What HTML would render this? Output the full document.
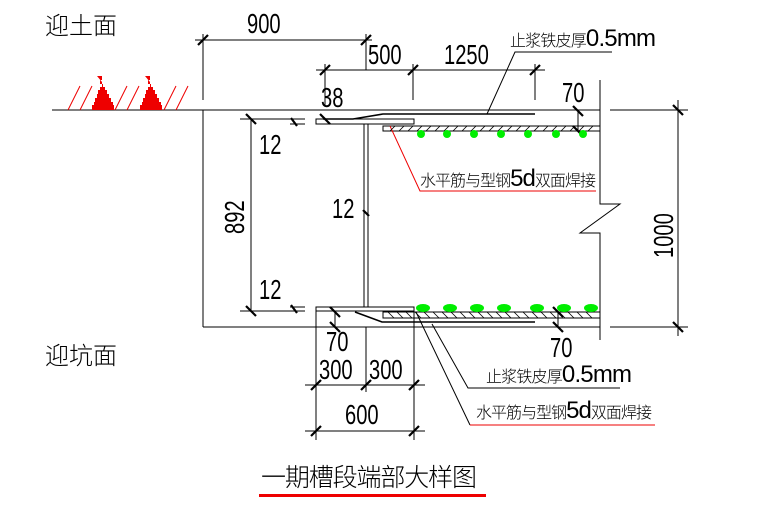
<!DOCTYPE html>
<html><head><meta charset="utf-8"><style>
html,body{margin:0;padding:0;background:#fff;}
svg{display:block}
text{font-family:"Liberation Sans","Noto Sans CJK SC",sans-serif;fill:#000;font-weight:normal}
.c{font-family:"Noto Sans CJK SC","WenQuanYi Zen Hei",sans-serif;font-weight:300}
</style></head><body>
<svg width="764" height="509" viewBox="0 0 764 509" xmlns="http://www.w3.org/2000/svg">
<g stroke="#000" stroke-width="1" fill="none">
<line x1="52" y1="110" x2="600" y2="110"/>
<line x1="610" y1="110" x2="688" y2="110"/>
<line x1="203" y1="110" x2="203" y2="327"/>
<line x1="203" y1="327" x2="600" y2="327"/>
<line x1="610" y1="327" x2="688" y2="327"/>
<polyline points="600,80 600,204 620,204 580,233 600,233 600,340"/>
<rect x="316" y="119" width="98" height="5"/>
<line x1="364" y1="124" x2="364" y2="307"/>
<line x1="368" y1="124" x2="368" y2="307"/>
<rect x="316" y="307" width="98" height="4"/>
<rect x="383" y="126" width="217" height="5"/>
<rect x="383" y="312" width="217" height="6"/>
<polyline points="323,119 353,119 383,114 535,114" stroke-width="1.6"/>
<polyline points="355,312 382,322 535,322" stroke-width="1.6"/>
<line x1="195" y1="40" x2="372" y2="40"/>
<line x1="203" y1="34" x2="203" y2="100"/>
<line x1="366" y1="34" x2="366" y2="70"/>
<line x1="316" y1="70" x2="545" y2="70"/>
<line x1="325" y1="64" x2="325" y2="105"/>
<line x1="413" y1="64" x2="413" y2="100"/>
<line x1="535" y1="64" x2="535" y2="100"/>
<line x1="251" y1="119" x2="251" y2="311"/>
<line x1="240" y1="119" x2="305" y2="119"/>
<line x1="290" y1="124" x2="305" y2="124"/>
<line x1="240" y1="311" x2="305" y2="311"/>
<line x1="290" y1="307" x2="305" y2="307"/>
<line x1="678" y1="100" x2="678" y2="336"/>
<line x1="578" y1="110" x2="578" y2="131"/>
<line x1="316" y1="311" x2="316" y2="440"/>
<line x1="366" y1="327" x2="366" y2="392"/>
<line x1="414" y1="311" x2="414" y2="440"/>
<line x1="305" y1="385" x2="425" y2="385"/>
<line x1="305" y1="431" x2="425" y2="431"/>
<line x1="335" y1="312" x2="335" y2="327"/>
<line x1="558" y1="312" x2="558" y2="327"/>
<polyline points="487,114 515,52 612,52"/>
<polyline points="432,324 468,388 620,388"/>
<polyline points="416,312 470,425"/>
</g>
<line x1="470" y1="425" x2="655" y2="425" stroke="#e00" stroke-width="1"/>
<polyline points="390,126 420,191 596,191" stroke="#e00" fill="none"/>
<g stroke="#000" stroke-width="2.2">
<line x1="198" y1="45" x2="208" y2="35"/>
<line x1="361" y1="45" x2="371" y2="35"/>
<line x1="320" y1="75" x2="330" y2="65"/>
<line x1="408" y1="75" x2="418" y2="65"/>
<line x1="530" y1="75" x2="540" y2="65"/>
<line x1="246" y1="114" x2="256" y2="124"/>
<line x1="246" y1="306" x2="256" y2="316"/>
<line x1="320" y1="114" x2="330" y2="124"/>
<line x1="673" y1="105" x2="683" y2="115"/>
<line x1="673" y1="322" x2="683" y2="332"/>
<line x1="573" y1="106" x2="583" y2="116"/>
<line x1="573" y1="126" x2="583" y2="136"/>
<line x1="330" y1="307" x2="340" y2="317"/>
<line x1="330" y1="322" x2="340" y2="332"/>
<line x1="553" y1="307" x2="563" y2="317"/>
<line x1="553" y1="322" x2="563" y2="332"/>
<line x1="311" y1="390" x2="321" y2="380"/>
<line x1="361" y1="390" x2="371" y2="380"/>
<line x1="409" y1="390" x2="419" y2="380"/>
<line x1="311" y1="436" x2="321" y2="426"/>
<line x1="409" y1="436" x2="419" y2="426"/>
<line x1="291" y1="118" x2="297" y2="126"/>
<line x1="291" y1="305" x2="297" y2="313"/>
<line x1="363" y1="210" x2="369" y2="216"/>
</g>
<g stroke="#000" stroke-width="0.8">
<path d="M390,131l5,-5M399,131l5,-5M408,131l5,-5M417,131l5,-5M426,131l5,-5M435,131l5,-5M444,131l5,-5M453,131l5,-5M462,131l5,-5M471,131l5,-5M480,131l5,-5M489,131l5,-5M498,131l5,-5M507,131l5,-5M516,131l5,-5M525,131l5,-5M534,131l5,-5M543,131l5,-5M552,131l5,-5M561,131l5,-5M570,131l5,-5M579,131l5,-5M588,131l5,-5"/>
<path d="M388,312l6,6M397,312l6,6M406,312l6,6M415,312l6,6M424,312l6,6M433,312l6,6M442,312l6,6M451,312l6,6M460,312l6,6M469,312l6,6M478,312l6,6M487,312l6,6M496,312l6,6M505,312l6,6M514,312l6,6M523,312l6,6M532,312l6,6M541,312l6,6M550,312l6,6M559,312l6,6M568,312l6,6M577,312l6,6M586,312l6,6"/>
</g>
<g fill="#0e0">
<circle cx="421" cy="134" r="4"/><circle cx="447" cy="134" r="4"/><circle cx="474" cy="134" r="4"/><circle cx="501" cy="134" r="4"/><circle cx="528" cy="134" r="4"/><circle cx="556" cy="134" r="4"/><circle cx="583" cy="134" r="4"/>
<ellipse cx="423" cy="308" rx="7" ry="4"/><ellipse cx="450" cy="308" rx="7" ry="4"/><ellipse cx="477" cy="308" rx="7" ry="4"/><ellipse cx="504" cy="308" rx="7" ry="4"/><ellipse cx="537" cy="308" rx="7" ry="4"/><ellipse cx="564" cy="308" rx="7" ry="4"/><ellipse cx="591" cy="308" rx="7" ry="4"/>
</g>
<g stroke="#e00" stroke-width="1" fill="none">
<path d="M68,110l12,-24M80,110l12,-24M115,110l12,-24M127,110l12,-24M164,110l12,-24M176,110l12,-24"/>
</g>
<g fill="#e00">
<path d="M97,76h5v4h-2v4h3v3h2v3h2v4h2v4h2v4h2v3h1v5h-22v-5h2v-3h1v-4h2v-4h1v-4h2v-3h2v-5z"/>
<path d="M145,76h5v4h-2v4h3v3h2v3h2v4h2v4h2v4h2v3h1v5h-22v-5h2v-3h1v-4h2v-4h1v-4h2v-3h2v-5z"/>
</g>
<g font-size="28">
<text x="247" y="33" transform="translate(247,0) scale(0.72,1) translate(-247,0)">900</text>
<text x="368" y="64" transform="translate(368,0) scale(0.72,1) translate(-368,0)">500</text>
<text x="444" y="64" transform="translate(444,0) scale(0.72,1) translate(-444,0)">1250</text>
<text x="321" y="107" transform="translate(321,0) scale(0.72,1) translate(-321,0)">38</text>
<text x="562" y="102" transform="translate(562,0) scale(0.72,1) translate(-562,0)">70</text>
<text x="259" y="154" transform="translate(259,0) scale(0.72,1) translate(-259,0)">12</text>
<text x="332" y="218" transform="translate(332,0) scale(0.72,1) translate(-332,0)">12</text>
<text x="259" y="299" transform="translate(259,0) scale(0.72,1) translate(-259,0)">12</text>
<text x="326" y="351" transform="translate(326,0) scale(0.72,1) translate(-326,0)">70</text>
<text x="550" y="357" transform="translate(550,0) scale(0.72,1) translate(-550,0)">70</text>
<text x="319" y="379" transform="translate(319,0) scale(0.72,1) translate(-319,0)">300</text>
<text x="369" y="379" transform="translate(369,0) scale(0.72,1) translate(-369,0)">300</text>
<text x="345" y="424" transform="translate(345,0) scale(0.72,1) translate(-345,0)">600</text>
<text transform="translate(244,234) rotate(-90) scale(0.72,1)">892</text>
<text transform="translate(673,258) rotate(-90) scale(0.72,1)">1000</text>
</g>
<text class="c" x="45" y="34" font-size="24">迎土面</text>
<text class="c" x="45" y="364" font-size="24">迎坑面</text>
<text class="c" x="510" y="46" font-size="16" textLength="146">止浆铁皮厚<tspan font-family="Liberation Sans" font-size="24" font-weight="normal">0.5mm</tspan></text>
<text class="c" x="420" y="186" font-size="16" textLength="176">水平筋与型钢<tspan font-family="Liberation Sans" font-size="24" font-weight="normal">5d</tspan>双面焊接</text>
<text class="c" x="486" y="382" font-size="16" textLength="146">止浆铁皮厚<tspan font-family="Liberation Sans" font-size="24" font-weight="normal">0.5mm</tspan></text>
<text class="c" x="476" y="418" font-size="16" textLength="176">水平筋与型钢<tspan font-family="Liberation Sans" font-size="24" font-weight="normal">5d</tspan>双面焊接</text>
<text class="c" x="261" y="486" font-size="25" textLength="216">一期槽段端部大样图</text>
<rect x="259" y="494" width="227" height="3" fill="#e00"/>
</svg>
</body></html>
